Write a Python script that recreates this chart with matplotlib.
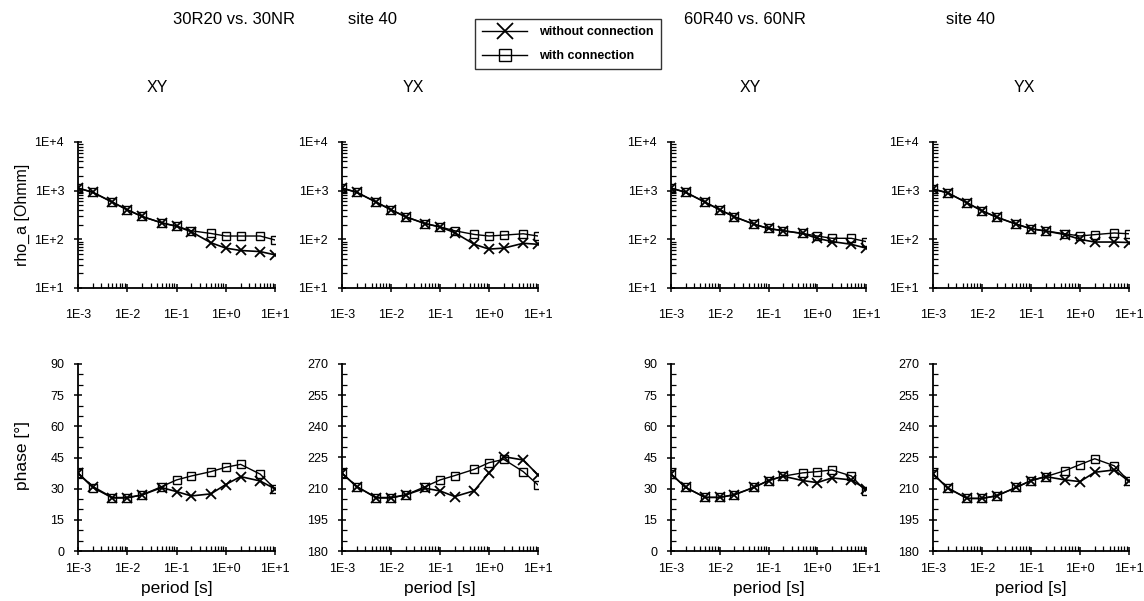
import matplotlib
matplotlib.use("Agg")
import matplotlib.pyplot as plt
import numpy as np
from matplotlib.ticker import FixedLocator, FixedFormatter, LogLocator, MultipleLocator, NullFormatter
from matplotlib.lines import Line2D

plt.rcParams['font.family'] = ['Liberation Sans', 'DejaVu Sans']

periods = [1e-3, 2e-3, 5e-3, 1e-2, 2e-2, 5e-2, 1e-1, 2e-1, 5e-1, 1.0, 2.0, 5.0, 10.0]

# 30R20 vs 30NR
rho_xy_30_without = [1130, 925, 580, 405, 295, 218, 186, 143, 85, 66, 59, 56, 48]
rho_xy_30_with    = [1130, 925, 580, 405, 295, 218, 186, 150, 132, 117, 117, 117, 97]
rho_yx_30_without = [1130, 925, 580, 405, 290, 210, 180, 137, 79, 63, 66, 83, 79]
rho_yx_30_with    = [1130, 925, 580, 405, 290, 210, 180, 150, 126, 117, 122, 130, 117]
phs_xy_30_without = [37.4, 31.0, 25.7, 25.7, 27.0, 30.5, 28.6, 26.5, 27.5, 32.0, 35.8, 33.7, 29.9]
phs_xy_30_with    = [37.4, 30.5, 25.5, 25.5, 27.0, 31.0, 34.2, 36.1, 38.2, 40.3, 41.7, 37.0, 29.9]
phs_yx_30_without = [217.4, 211.0, 205.7, 205.7, 207.0, 210.2, 208.9, 206.2, 209.0, 217.7, 225.4, 223.8, 216.6]
phs_yx_30_with    = [217.4, 211.0, 205.5, 205.5, 207.0, 211.0, 214.2, 216.3, 219.3, 222.5, 224.1, 218.2, 211.8]

# 60R40 vs 60NR
rho_xy_60_without = [1130, 925, 580, 405, 290, 205, 167, 150, 132, 105, 90, 79, 66]
rho_xy_60_with    = [1130, 925, 580, 405, 290, 205, 167, 150, 132, 117, 105, 105, 90]
rho_yx_60_without = [1080, 900, 560, 385, 285, 205, 165, 148, 125, 100, 88, 88, 86]
rho_yx_60_with    = [1080, 900, 560, 385, 285, 205, 165, 148, 130, 117, 125, 135, 130]
phs_xy_60_without = [37.1, 30.6, 25.8, 25.8, 27.1, 30.6, 33.9, 36.0, 33.9, 32.9, 35.2, 34.2, 29.8]
phs_xy_60_with    = [37.1, 30.6, 25.8, 25.8, 27.1, 30.6, 33.9, 36.0, 37.6, 38.2, 39.0, 36.1, 28.7]
phs_yx_60_without = [217.1, 210.3, 205.3, 205.3, 206.6, 210.6, 213.9, 215.8, 214.2, 213.4, 217.9, 219.0, 213.5]
phs_yx_60_with    = [217.1, 210.3, 205.3, 205.3, 206.6, 210.6, 213.9, 215.8, 218.7, 221.6, 224.4, 221.0, 213.5]

xtick_vals = [1e-3, 1e-2, 1e-1, 1e0, 1e1]
xtick_labels = ["1E-3", "1E-2", "1E-1", "1E+0", "1E+1"]
ytick_rho_vals = [1e1, 1e2, 1e3, 1e4]
ytick_rho_labels = ["1E+1", "1E+2", "1E+3", "1E+4"]
series_labels = ["without connection", "with connection"]

W, H = 1144, 601
fig = plt.figure(figsize=(W / 100, H / 100), dpi=100)

def ax_px(x0, x1, y0, y1):
    return fig.add_axes([x0 / W, 1 - y1 / H, (x1 - x0) / W, (y1 - y0) / H])

lefts = [(78, 275), (342, 538), (671, 866), (933, 1129)]
rho_y = (142, 288)
phs_y = (364, 551)

rho_sets = [
    (rho_xy_30_without, rho_xy_30_with),
    (rho_yx_30_without, rho_yx_30_with),
    (rho_xy_60_without, rho_xy_60_with),
    (rho_yx_60_without, rho_yx_60_with),
]
phs_sets = [
    (phs_xy_30_without, phs_xy_30_with, 0),
    (phs_yx_30_without, phs_yx_30_with, 180),
    (phs_xy_60_without, phs_xy_60_with, 0),
    (phs_yx_60_without, phs_yx_60_with, 180),
]

tick_fs = 9

def style_axis(ax, xpad):
    ax.spines['top'].set_visible(False)
    ax.spines['right'].set_visible(False)
    ax.spines['left'].set_linewidth(1.3)
    ax.spines['bottom'].set_linewidth(1.3)
    ax.set_xscale('log')
    ax.set_xlim(1e-3, 1e1)
    ax.xaxis.set_major_locator(FixedLocator(xtick_vals))
    ax.xaxis.set_major_formatter(FixedFormatter(xtick_labels))
    ax.xaxis.set_minor_locator(LogLocator(base=10, subs=np.arange(2, 10)))
    ax.xaxis.set_minor_formatter(NullFormatter())
    ax.tick_params(axis='both', which='major', direction='inout', length=6, width=1.1,
                   labelsize=tick_fs)
    ax.tick_params(axis='y', which='major', pad=7)
    ax.tick_params(axis='x', which='major', pad=xpad)
    ax.tick_params(axis='both', which='minor', direction='in', length=3.5, width=0.9)

def plot_pair(ax, wo, w):
    ax.plot(periods, wo, color='black', lw=1.2, marker='x', ms=7, mew=1.3, zorder=3)
    ax.plot(periods, w, color='black', lw=1.0, marker='s', ms=6, mfc='none', mew=1.0, zorder=2)

for i, (x0, x1) in enumerate(lefts):
    ax = ax_px(x0, x1, *rho_y)
    wo, w = rho_sets[i]
    plot_pair(ax, wo, w)
    ax.set_yscale('log')
    ax.set_ylim(1e1, 1e4)
    ax.yaxis.set_major_locator(FixedLocator(ytick_rho_vals))
    ax.yaxis.set_major_formatter(FixedFormatter(ytick_rho_labels))
    ax.yaxis.set_minor_locator(LogLocator(base=10, subs=np.arange(2, 10)))
    ax.yaxis.set_minor_formatter(NullFormatter())
    style_axis(ax, xpad=12)
    if i == 0:
        ax.set_ylabel("rho_a [Ohmm]", fontsize=11.5, va='center')
        ax.yaxis.set_label_coords((22 - x0) / (x1 - x0), 0.5)

    axp = ax_px(x0, x1, *phs_y)
    wo, w, base = phs_sets[i]
    plot_pair(axp, wo, w)
    axp.set_ylim(base, base + 90)
    axp.yaxis.set_major_locator(MultipleLocator(15))
    axp.yaxis.set_minor_locator(MultipleLocator(5))
    style_axis(axp, xpad=6)
    axp.set_xlabel("period [s]", fontsize=12.5, va='center')
    axp.xaxis.set_label_coords(0.5, -(588 - 551) / (551 - 364))
    if i == 0:
        axp.set_ylabel("phase [°]", fontsize=12.5, va='center')
        axp.yaxis.set_label_coords((23 - x0) / (x1 - x0), (551 - 456) / (551 - 364))

# header texts
def ftxt(x, y, s, fs=12, **kw):
    fig.text(x / W, 1 - y / H, s, fontsize=fs, ha='center', va='center', **kw)

ftxt(234, 19, "30R20 vs. 30NR")
ftxt(372, 19, "site 40")
ftxt(745, 19, "60R40 vs. 60NR")
ftxt(970, 19, "site 40")
ftxt(157, 87, "XY", fs=11.5)
ftxt(413, 87, "YX", fs=11.5)
ftxt(750, 87, "XY", fs=11.5)
ftxt(1024, 87, "YX", fs=11.5)

# legend
handles = [
    Line2D([], [], color='black', lw=1.0, marker='x', ms=12, mew=1.3),
    Line2D([], [], color='black', lw=1.0, marker='s', ms=9, mfc='none', mew=1.0),
]
leg = fig.legend(handles, series_labels,
                 loc='center', bbox_to_anchor=(568 / W, 1 - 44 / H),
                 fontsize=9, frameon=True, fancybox=False, edgecolor='black',
                 handlelength=3.6, borderpad=0.55, labelspacing=0.95, handletextpad=1.0,
                 borderaxespad=0)
leg.get_frame().set_linewidth(1.0)
for t in leg.get_texts():
    t.set_fontweight('bold')

fig.savefig("out.png", dpi=100)
